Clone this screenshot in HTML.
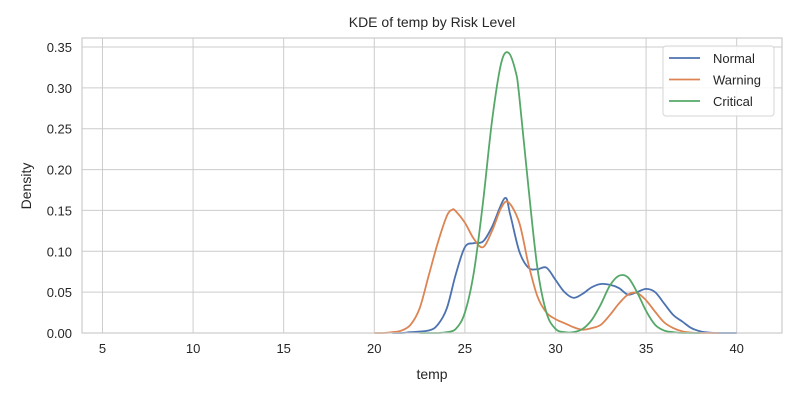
<!DOCTYPE html>
<html><head><meta charset="utf-8"><style>
body{margin:0;background:#fff;}
svg{display:block;font-family:"Liberation Sans","DejaVu Sans",sans-serif;}
</style></head><body>
<svg id="chart" width="800" height="400"></svg>
<script>
const normalX=[21,21.5,22,23,23.5,24,24.5,25,25.5,26,26.5,27.2,27.5,28,28.5,29,29.5,30,30.5,31,31.5,32,32.5,33,33.5,34,34.5,35,35.5,36,36.5,37,37.5,38,38.5,39,40];
const normalY=[0,0,0.001,0.003,0.01,0.03,0.072,0.105,0.11,0.112,0.13,0.165,0.145,0.1,0.08,0.078,0.08,0.065,0.05,0.043,0.048,0.056,0.06,0.059,0.055,0.047,0.05,0.054,0.05,0.036,0.022,0.014,0.006,0.002,0.0005,0,0];
const warningX=[20,20.5,21,21.5,22,22.5,23,23.5,24,24.3,24.5,25,25.5,26,26.5,27,27.4,28,28.5,29,29.5,30,30.5,31,31.5,32,32.5,33,33.5,34,34.5,35,35.5,36,36.5,37,37.5,38,39];
const warningY=[0,0,0.001,0.003,0.01,0.03,0.07,0.11,0.143,0.151,0.149,0.135,0.115,0.105,0.125,0.153,0.16,0.135,0.085,0.045,0.025,0.017,0.012,0.007,0.004,0.006,0.01,0.022,0.036,0.047,0.049,0.04,0.026,0.013,0.006,0.002,0.0005,0,0];
const criticalX=[22.5,23.5,24,24.5,25,25.5,26,26.5,27,27.4,27.8,28,28.5,29,29.5,30,30.5,31,31.5,32,32.5,33,33.5,34,34.5,35,35.5,36,36.5,37,38];
const criticalY=[0,0,0.001,0.005,0.025,0.075,0.16,0.26,0.33,0.343,0.32,0.29,0.18,0.08,0.025,0.005,0.001,0.001,0.005,0.016,0.035,0.058,0.07,0.068,0.05,0.027,0.01,0.003,0.001,0,0];
const xTicks=[5,10,15,20,25,30,35,40];
const yTicks=[0,0.05,0.1,0.15,0.2,0.25,0.3,0.35];

const L=82,R=782,T=38,B=333;
const x0=3.87,x1=42.5,y0=0,y1=0.361;
const sx=v=>L+(v-x0)/(x1-x0)*(R-L);
const sy=v=>B-(v-y0)/(y1-y0)*(B-T);
const svg=document.getElementById('chart');
const NS='http://www.w3.org/2000/svg';
function mk(tag,attrs,parent){const e=document.createElementNS(NS,tag);for(const k in attrs)e.setAttribute(k,attrs[k]);(parent||svg).appendChild(e);return e;}

const grid=mk('g',{});


xTicks.forEach(t=>{
  const l=mk('line',{x1:sx(t),x2:sx(t),y1:T,y2:B,stroke:'#cccccc','stroke-width':1},grid);
  
  
  const tx=mk('text',{x:sx(t),y:B+20,'text-anchor':'middle','font-size':13,fill:'#262626'});
  
  
  tx.textContent=t;
});
yTicks.forEach(t=>{
  const l=mk('line',{x1:L,x2:R,y1:sy(t),y2:sy(t),stroke:'#cccccc','stroke-width':1},grid);
  
  
  const tx=mk('text',{x:L-10,y:sy(t)+5,'text-anchor':'end','font-size':13,fill:'#262626'});
  
  
  tx.textContent=t.toFixed(2);
});

function pathFor(xs,ys){
  const p=xs.map((v,i)=>[sx(v),sy(ys[i])]);
  let d='M'+p[0][0]+','+p[0][1];
  for(let i=0;i<p.length-1;i++){
    const a=p[i-1]||p[i],b=p[i],c=p[i+1],e=p[i+2]||c;
    const c1x=b[0]+(c[0]-a[0])/6,c1y=b[1]+(c[1]-a[1])/6;
    const c2x=c[0]-(e[0]-b[0])/6,c2y=c[1]-(e[1]-b[1])/6;
    d+=` C${c1x},${Math.min(B,c1y)} ${c2x},${Math.min(B,c2y)} ${c[0]},${c[1]}`;
  }
  return d;
}
const series=[['normal',normalX,normalY,'#4c72b0'],['warning',warningX,warningY,'#dd8452'],['critical',criticalX,criticalY,'#55a868']];
series.forEach(s=>{
  const p=mk('path',{d:pathFor(s[1],s[2]),fill:'none',stroke:s[3],'stroke-width':1.8});
  
  
});
const frame=mk('rect',{x:L,y:T,width:R-L,height:B-T,fill:'none',stroke:'#cccccc','stroke-width':1.2});



const title=mk('text',{x:432,y:27,'text-anchor':'middle','font-size':14,fill:'#262626'});


title.textContent='KDE of temp by Risk Level';
const xl=mk('text',{x:432,y:379,'text-anchor':'middle','font-size':14,fill:'#262626'});


xl.textContent='temp';
const yl=mk('text',{x:31,y:186,'text-anchor':'middle','font-size':14,fill:'#262626',transform:'rotate(-90 31 186)'});


yl.textContent='Density';

const lg=mk('g',{});


mk('rect',{x:663,y:46,width:111,height:70,rx:3,fill:'#fff','fill-opacity':0.85,stroke:'#d6d6d6'},lg);
series.forEach((s,i)=>{
  const y=58+i*21.5;
  const ln=mk('line',{x1:669,x2:700,y1:y,y2:y,stroke:s[3],'stroke-width':1.8},lg);
  
  
  const t=mk('text',{x:713,y:y+5,'font-size':13,fill:'#262626'},lg);
  
  
  t.textContent=s[0][0].toUpperCase()+s[0].slice(1);
});
</script>
</body></html>
